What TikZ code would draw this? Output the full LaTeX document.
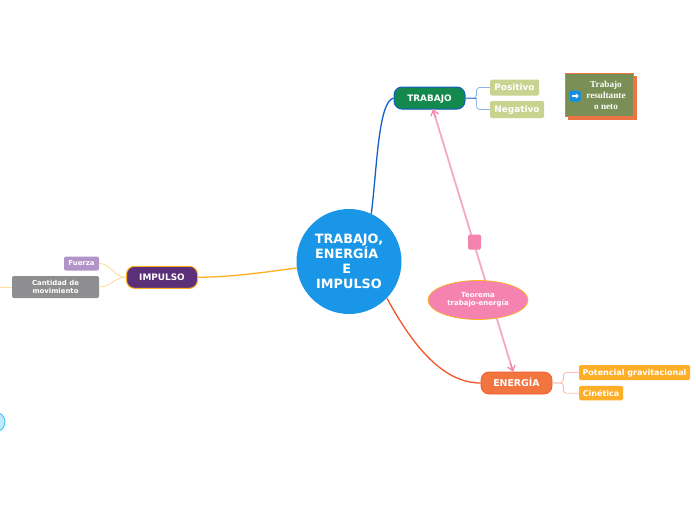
\documentclass[tikz,border=0pt]{standalone}
\usepackage{fontspec}
\setmainfont{DejaVu Sans}
\newfontfamily\boxfont{Liberation Serif}
\usetikzlibrary{arrows.meta,calc,shapes.geometric,shadows}
\definecolor{hub}{HTML}{1A96E8}
\definecolor{trab}{HTML}{14894E}
\definecolor{trabline}{HTML}{1560C8}
\definecolor{trableaf}{HTML}{C9D38F}
\definecolor{trabbranch}{HTML}{8FB4EC}
\definecolor{imp}{HTML}{5B3078}
\definecolor{impline}{HTML}{FFB020}
\definecolor{impbranch}{HTML}{FFDD9A}
\definecolor{impleaf}{HTML}{B295C8}
\definecolor{impgray}{HTML}{8E8E90}
\definecolor{ener}{HTML}{F2743E}
\definecolor{enerline}{HTML}{F4552A}
\definecolor{enerbranch}{HTML}{FBC0AE}
\definecolor{enerleaf}{HTML}{FFAE28}
\definecolor{rosa}{HTML}{F583B0}
\definecolor{rosaline}{HTML}{F6A8C8}
\definecolor{olive}{HTML}{7A8F55}
\definecolor{rust}{HTML}{EC7444}
\definecolor{icon}{HTML}{0F8FE8}
\tikzset{
  topicbox/.style={draw,line width=1pt,rounded corners=8pt,text=white,inner sep=0pt,
    minimum width=71pt,minimum height=22pt,text height=6.5pt,text depth=0pt,font=\fontsize{8.9}{10}\selectfont\bfseries},
  leafbox/.style={rounded corners=1.5pt,text=white,inner sep=0pt,text height=6.5pt,text depth=0pt,
    font=\fontsize{8}{10}\selectfont\bfseries},
  smallbox/.style={rounded corners=2pt,text=white,inner sep=0pt,align=center,
    font=\fontsize{6.9}{8.6}\selectfont\bfseries},
}
\begin{document}
\begin{tikzpicture}[x=1pt,y=-1pt]
  \useasboundingbox (0,0) rectangle (696,520);
  \fill[white] (0,0) rectangle (696,520);
  \coordinate (stub) at (0,287);
  \node[circle,fill=hub,inner sep=0pt,minimum size=105pt,align=center,text=white,
    font=\fontsize{12.8}{15}\selectfont\bfseries] (hubnode) at (349,261.5)
    {TRABAJO,\\ENERGÍA~~\\E~~\\IMPULSO};
  \node[topicbox,fill=trab,draw=trabline,drop shadow={opacity=0.2,shadow xshift=0pt,shadow yshift=-1pt}] (trabajo) at (429.5,98) {TRABAJO};
  \node[topicbox,fill=imp,draw=impline] (impulso) at (162,277.3) {IMPULSO};
  \node[topicbox,fill=ener,draw=enerline,line width=0.7pt,font=\fontsize{9.4}{10}\selectfont\bfseries] (energia) at (516.5,383) {ENERGÍA};
  \node[leafbox,fill=trableaf,minimum width=49pt,minimum height=16pt,font=\fontsize{8.9}{10}\selectfont\bfseries] (positivo) at (514.5,87.5) {Positivo};
  \node[leafbox,fill=trableaf,minimum width=54pt,minimum height=17pt,font=\fontsize{8.9}{10}\selectfont\bfseries] (negativo) at (517,109.5) {Negativo};
  \node[leafbox,fill=enerleaf,minimum width=111pt,minimum height=15pt] (potencial) at (634.5,372.5) {Potencial gravitacional};
  \node[leafbox,fill=enerleaf,minimum width=44pt,minimum height=14.5pt] (cinetica) at (601,393.2) {Cinética};
  \node[smallbox,fill=impleaf,minimum width=35pt,minimum height=14pt] (fuerza) at (81.5,263.5) {Fuerza};
  \node[smallbox,fill=impgray,minimum width=87pt,minimum height=22pt] (cantidad) at (55.5,287) {Cantidad de\\movimiento};
  \draw[trabline,line width=1.3pt] (hubnode.65) .. controls (377,170) and (378,102) .. (trabajo.west);
  \draw[impline,line width=1.3pt] (hubnode.187) .. controls (260,273) and (230,277) .. (impulso.east);
  \draw[enerline,line width=1.3pt] (hubnode.-44) .. controls (415,350) and (445,383) .. (energia.west);
  \foreach \leaf in {positivo,negativo}{
    \draw[trabbranch,line width=0.8pt,rounded corners=3pt] (trabajo.east) -- ++(11,0) |- (\leaf.west);
  }
  \draw[trabline!70!white,line width=0.9pt] (trabajo.east) -- ++(11,0);
  \foreach \leaf in {potencial,cinetica}{
    \draw[enerbranch,line width=0.9pt,rounded corners=3pt] (energia.east) -- ++(11,0) |- (\leaf.west);
  }
  \foreach \leaf in {fuerza,cantidad}{
    \draw[impbranch,line width=0.9pt] (impulso.west) .. controls ++(-12,0) and ($(\leaf.east)+(12,0)$) .. (\leaf.east);
  }
  \draw[impbranch,line width=0.9pt] (cantidad.west) -- (stub);
  \draw[rosaline,line width=1.8pt] (trabajo) -- (energia);
  \draw[-{Straight Barb[length=5pt,width=8pt]},rosa,line width=1.2pt] ($(trabajo)!0.07!(energia)$) -- ($(trabajo)!0.04!(energia)$);
  \draw[-{Straight Barb[length=5pt,width=8pt]},rosa,line width=1.2pt] ($(trabajo)!0.93!(energia)$) -- ($(trabajo)!0.96!(energia)$);
  \node[fill=rosa,rounded corners=1.5pt,inner sep=0pt,minimum width=13pt,minimum height=15pt] (mark) at (474.5,242) {};
  \node[ellipse,fill=rosa,draw=impline,line width=0.7pt,inner sep=0pt,minimum width=100pt,minimum height=39pt,
    align=center,text=white,font=\fontsize{7}{8.2}\selectfont\bfseries] (teorema) at (478,300) {Teorema\\trabajo-energía};
  \node[fill=rust,inner sep=0pt,minimum width=69pt,minimum height=44pt] (notashadow) at (602.5,97.5) {};
  \node[fill=olive,draw=rust,line width=1pt,inner sep=0pt,minimum width=68pt,minimum height=43pt] (nota) at (599.5,95) {};
  \node[text=white,align=center,font=\boxfont\fontsize{9.2}{11}\selectfont\bfseries] (notatext) at (606,95) {Trabajo\\resultante\\o neto};
  \node[fill=icon,rounded corners=1.5pt,inner sep=0pt,minimum size=11pt] (flecha) at (575,96) {};
  \draw[-{Triangle[length=3pt,width=5pt]},white,line width=1.2pt] ($(flecha)+(-3.5,0)$) -- ($(flecha)+(3.8,0)$);
  \node[circle,fill=cyan!25!white,draw=cyan!70!white,line width=1pt,inner sep=0pt,minimum size=20pt] (bubble) at (-5,422) {};
\end{tikzpicture}
\end{document}
